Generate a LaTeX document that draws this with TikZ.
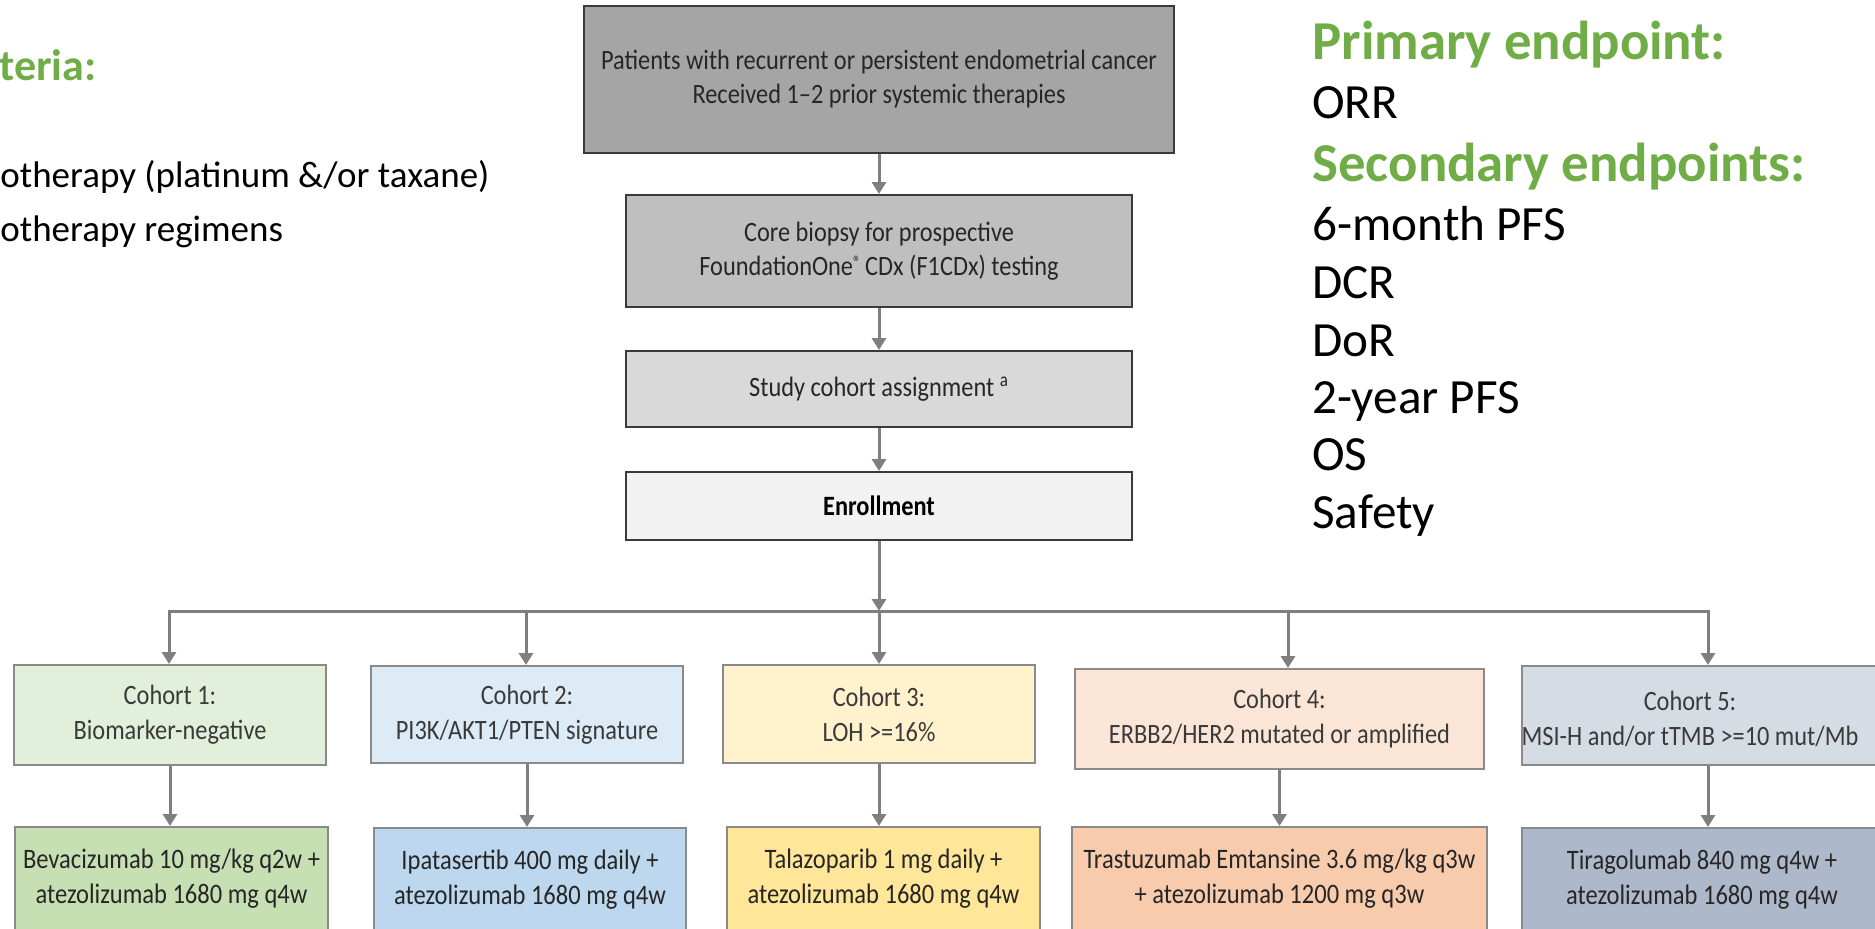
\documentclass[tikz,border=0pt]{standalone}
\usepackage{fontspec}
\usepackage{graphicx}
\setmainfont{Carlito}
\usetikzlibrary{arrows.meta}
\newcommand{\nar}[1]{\scalebox{0.87}[1]{#1}}
\definecolor{hdrgreen}{HTML}{70AD47}
\definecolor{flowedge}{HTML}{3A3A3A}
\definecolor{celledge}{HTML}{8A8A8A}
\definecolor{arrowgray}{HTML}{7F7F7F}
\definecolor{flowtext}{HTML}{262626}
\definecolor{cohtext}{HTML}{3A3A3A}
\definecolor{f1}{HTML}{A5A5A5}
\definecolor{f2}{HTML}{BFBFBF}
\definecolor{f3}{HTML}{D9D9D9}
\definecolor{f4}{HTML}{F2F2F2}
\definecolor{c1fill}{HTML}{E2EFDA}
\definecolor{t1fill}{HTML}{C6E0B4}
\definecolor{c2fill}{HTML}{DDEBF7}
\definecolor{t2fill}{HTML}{BDD7EE}
\definecolor{c3fill}{HTML}{FFF2CC}
\definecolor{t3fill}{HTML}{FFE699}
\definecolor{c4fill}{HTML}{FBE5D6}
\definecolor{t4fill}{HTML}{F8CBAD}
\definecolor{c5fill}{HTML}{D6DCE4}
\definecolor{t5fill}{HTML}{ADB9CA}
\begin{document}
\begin{tikzpicture}[x=0.5pt,y=-0.5pt,
  flowbox/.style={draw=flowedge, line width=1pt, align=center, inner sep=0pt,
    font=\fontsize{14}{17.25}\selectfont, text=flowtext},
  cohbox/.style={draw=celledge, line width=1pt, align=center, inner sep=0pt,
    font=\fontsize{14}{17.5}\selectfont, text=cohtext},
  treatbox/.style={draw=celledge, line width=1pt, align=center, inner sep=0pt,
    font=\fontsize{14.1}{17.5}\selectfont, text=flowtext},
  ctext/.style={align=center, inner sep=0pt, font=\fontsize{14}{17.5}\selectfont, text=cohtext},
  conn/.style={draw=arrowgray, line width=1.5pt, -{Triangle[width=7pt,length=6pt]}},
  barline/.style={draw=arrowgray, line width=1.5pt, line cap=rect},
  endhead/.style={text=hdrgreen, font=\fontsize{27.4}{30}\selectfont\bfseries, anchor=base west, inner sep=0pt},
  enditem/.style={text=black, font=\fontsize{24.6}{28}\selectfont, anchor=base west, inner sep=0pt},
  lhead/.style={text=hdrgreen, font=\fontsize{22}{26}\selectfont\bfseries, anchor=base west, inner sep=0pt},
  litem/.style={text=black, font=\fontsize{18.5}{22}\selectfont, anchor=base west, inner sep=0pt},
]
\useasboundingbox (0,0) rectangle (1875,928);

% left column (cut off)
\node[lhead] (kh) at (-1,80) {teria:};
\node[litem] (l1) at (0,187) {otherapy (platinum \&/or taxane)};
\node[litem] (l2) at (0,241) {otherapy regimens};

% right column
\node[endhead] (ph) at (1312,59) {Primary endpoint:};
\node[enditem] (e1) at (1312,118) {ORR};
\node[endhead] (sh) at (1312,181) {Secondary endpoints:};
\node[enditem] (e2) at (1312,240) {6-month PFS};
\node[enditem] (e3) at (1312,298) {DCR};
\node[enditem] (e4) at (1312,356) {DoR};
\node[enditem] (e5) at (1312,413) {2-year PFS};
\node[enditem] (e6) at (1312,470) {OS};
\node[enditem] (e7) at (1312,528) {Safety};

% flow boxes
\node[flowbox, fill=f1, minimum width=295pt, minimum height=73.5pt] (top) at (879,79)
  {\nar{Patients with recurrent or persistent endometrial cancer}\\\nar{Received 1--2 prior systemic therapies}};
\node[flowbox, fill=f2, minimum width=253pt, minimum height=56pt] (bio) at (879,251)
  {\nar{Core biopsy for prospective}\\\nar{FoundationOne\raisebox{0.5ex}{\fontsize{9}{9}\selectfont ®}\,CDx (F1CDx) testing}};
\node[flowbox, fill=f3, minimum width=253pt, minimum height=38pt] (asg) at (879,389)
  {\nar{Study cohort assignment \textsuperscript{a}}};
\node[flowbox, fill=f4, minimum width=253pt, minimum height=34pt, text=black] (enr) at (879,506)
  {\nar{\bfseries Enrollment}};

\draw[conn] (top.south) -- (bio.north);
\draw[conn] (bio.south) -- (asg.north);
\draw[conn] (asg.south) -- (enr.north);

% cohort boxes
\node[cohbox, fill=c1fill, minimum width=156pt, minimum height=50pt] (c1) at (170,715)
  {\nar{Cohort 1:}\\\nar{Biomarker-negative}};
\node[cohbox, fill=c2fill, minimum width=156pt, minimum height=48.5pt] (c2) at (527,714.5)
  {\nar{Cohort 2:}\\\nar{PI3K/AKT1/PTEN signature}};
\node[cohbox, fill=c3fill, minimum width=156pt, minimum height=49pt] (c3) at (879,714)
  {\nar{Cohort 3:}\\\nar{LOH >=16\%}};
\node[cohbox, fill=c4fill, minimum width=204.5pt, minimum height=50pt] (c4) at (1279.5,719)
  {\nar{Cohort 4:}\\\nar{ERBB2/HER2 mutated or amplified}};
\node[cohbox, fill=c5fill, minimum width=186pt, minimum height=49.5pt] (c5) at (1708,715.5) {};
\node[ctext] (c5t) at (1690,719) {\nar{Cohort 5:}\\\nar{MSI-H and/or tTMB >=10 mut/Mb}};

% treatment boxes
\node[treatbox, fill=t1fill, minimum width=156.5pt, minimum height=52pt] (t1) at (171.5,879)
  {\nar{Bevacizumab 10 mg/kg q2w +}\\\nar{atezolizumab 1680 mg q4w}};
\node[treatbox, fill=t2fill, minimum width=156pt, minimum height=52pt] (t2) at (530,880)
  {\nar{Ipatasertib 400 mg daily +}\\\nar{atezolizumab 1680 mg q4w}};
\node[treatbox, fill=t3fill, minimum width=156.5pt, minimum height=52pt] (t3) at (883.5,879)
  {\nar{Talazoparib 1 mg daily +}\\\nar{atezolizumab 1680 mg q4w}};
\node[treatbox, fill=t4fill, minimum width=207.5pt, minimum height=52pt] (t4) at (1279.5,879)
  {\nar{Trastuzumab Emtansine 3.6 mg/kg q3w}\\\nar{+ atezolizumab 1200 mg q3w}};
\node[treatbox, fill=t5fill, minimum width=180pt, minimum height=52pt] (t5) at (1702,880)
  {\nar{Tiragolumab 840 mg q4w +}\\\nar{atezolizumab 1680 mg q4w}};

% distribution bar
\coordinate (b1) at (169,611);
\coordinate (b2) at (526,611);
\coordinate (b3) at (879,611);
\coordinate (b4) at (1288,611);
\coordinate (b5) at (1708,611);
\draw[barline] (b1) -- (b5);
\draw[conn] (enr.south) -- (b3);
\draw[conn] (b1) -- (b1 |- c1.north);
\draw[conn] (b2) -- (b2 |- c2.north);
\draw[conn] (b3) -- (b3 |- c3.north);
\draw[conn] (b4) -- (b4 |- c4.north);
\draw[conn] (b5) -- (b5 |- c5.north);

% cohort to treatment
\draw[conn] (c1.south) -- (c1.south |- t1.north);
\draw[conn] (c2.south) -- (c2.south |- t2.north);
\draw[conn] (c3.south) -- (c3.south |- t3.north);
\draw[conn] (c4.south) -- (c4.south |- t4.north);
\draw[conn] (c5.south) -- (c5.south |- t5.north);
\end{tikzpicture}
\end{document}
